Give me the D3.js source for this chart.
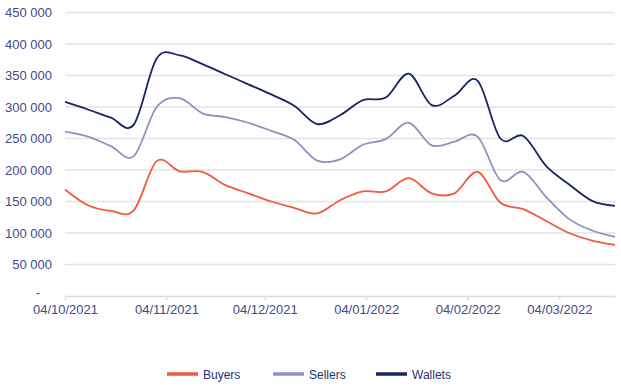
<!DOCTYPE html>
<html>
<head>
<meta charset="utf-8">
<script src="https://cdn.jsdelivr.net/npm/d3@7"></script>
<style>
  html, body { margin: 0; padding: 0; background: #ffffff; }
  svg { display: block; }
</style>
</head>
<body>
<svg id="chart" width="621" height="385"></svg>
<script>
// ---- data ----
const startDate = "04/10/2021";
const endDate = "21/03/2022";
const dates = [
  "04/10/2021","11/10/2021","18/10/2021","25/10/2021","01/11/2021","08/11/2021",
  "15/11/2021","22/11/2021","29/11/2021","06/12/2021","13/12/2021","20/12/2021",
  "27/12/2021","03/01/2022","10/01/2022","17/01/2022","24/01/2022","31/01/2022",
  "07/02/2022","14/02/2022","21/02/2022","28/02/2022","07/03/2022","14/03/2022",
  "21/03/2022"
];
const buyers = [169000,144000,135000,136000,214000,198000,197000,176000,163000,150000,
  140000,131000,152000,166000,166000,187000,163000,163000,197000,148000,
  138000,119000,100000,88000,81000];
const sellers = [261000,253000,238000,222000,300000,314000,290000,284000,275000,262000,
  248000,215000,217000,240000,249000,275000,239000,245000,253000,184000,
  197000,157000,122000,104000,94000];
const wallets = [308000,296000,283000,272000,377000,382000,368000,352000,336000,320000,
  302000,273000,287000,311000,315000,353000,303000,318000,342000,250000,
  254000,206000,177000,151000,143000];
const seriesNames = ["Buyers","Sellers","Wallets"];
const seriesColors = ["#f15a3d","#8b93c2","#19236a"];
const yTicks = [0,50000,100000,150000,200000,250000,300000,350000,400000,450000];
const xTickLabels = ["04/10/2021","04/11/2021","04/12/2021","04/01/2022","04/02/2022","04/03/2022"];

// ---- scales ----
const parse = d3.timeParse("%d/%m/%Y");
const svg = d3.select("#chart");
const x = d3.scaleTime().domain([parse(startDate), parse(endDate)]).range([65, 615]);
const y = d3.scaleLinear().domain([0, 450000]).range([296, 12.5]);

const textColor = "#414a8c";
const font = "'Liberation Sans', Arial, sans-serif";

// gridlines
svg.append("g").selectAll("line")
  .data(yTicks.filter(d => d > 0))
  .join("line")
  .attr("x1", 65).attr("x2", 615)
  .attr("y1", d => y(d)).attr("y2", d => y(d))
  .attr("stroke", "#e3e3e6").attr("stroke-width", 1.3);

// y axis labels
svg.append("g").selectAll("text")
  .data(yTicks)
  .join("text")
  .attr("x", d => d === 0 ? 38 : 52)
  .attr("y", d => y(d) + (d === 0 ? 1 : 4.5))
  .attr("text-anchor", d => d === 0 ? "middle" : "end")
  .attr("font-family", font).attr("font-size", 13)
  .attr("fill", textColor)
  .text(d => d === 0 ? "-" : d3.format(",")(d).replace(/,/g, " "));

// x axis
const xAxis = d3.axisBottom(x)
  .tickValues(xTickLabels.map(parse))
  .tickSize(4)
  .tickSizeOuter(0)
  .tickFormat(d3.timeFormat("%d/%m/%Y"));
const gx = svg.append("g").attr("transform", "translate(0,296)").call(xAxis);
gx.select(".domain").attr("stroke", "#dcdce0").attr("stroke-width", 1.3);
gx.selectAll(".tick line").attr("stroke", "#dcdce0").attr("stroke-width", 1.3);
gx.selectAll(".tick text")
  .attr("font-family", font).attr("font-size", 13)
  .attr("fill", textColor).attr("dy", "0.9em").attr("y", 6);

// lines
const allSeries = [buyers, sellers, wallets];
const line = d3.line()
  .x((d, i) => x(parse(dates[i])))
  .y(d => y(d))
  .curve(d3.curveCardinal.tension(0));
allSeries.forEach((s, k) => {
  svg.append("path")
    .datum(s)
    .attr("d", line)
    .attr("fill", "none")
    .attr("stroke", seriesColors[k])
    .attr("stroke-width", 1.8)
    .attr("stroke-linejoin", "round");
});

// legend
const legendX = [167, 273, 376];
const lg = svg.append("g");
seriesNames.forEach((name, k) => {
  lg.append("line")
    .attr("x1", legendX[k]).attr("x2", legendX[k] + 31)
    .attr("y1", 374).attr("y2", 374)
    .attr("stroke", seriesColors[k]).attr("stroke-width", 3.5);
  lg.append("text")
    .attr("x", legendX[k] + 36).attr("y", 378.5)
    .attr("font-family", font).attr("font-size", 12)
    .attr("fill", "#26306f")
    .text(name);
});
</script>
</body>
</html>
